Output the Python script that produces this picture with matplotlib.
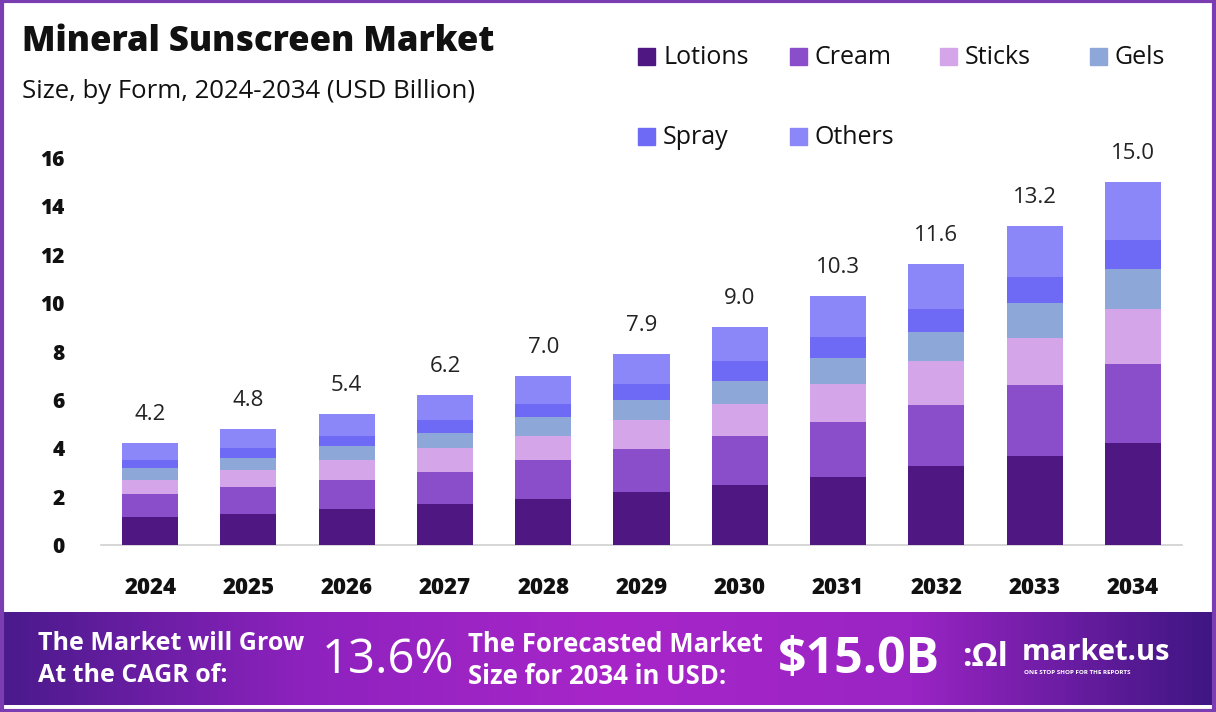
import numpy as np
import matplotlib.pyplot as plt
from matplotlib.patches import Rectangle
from matplotlib.colors import LinearSegmentedColormap

# -------------------------------
# Data (USD Billion)
# -------------------------------
years = ["2024", "2025", "2026", "2027", "2028", "2029", "2030", "2031", "2032", "2033", "2034"]
totals = [4.2, 4.8, 5.4, 6.2, 7.0, 7.9, 9.0, 10.3, 11.6, 13.2, 15.0]

lotions = [1.15, 1.3, 1.5, 1.7, 1.9, 2.2, 2.5, 2.8, 3.25, 3.7, 4.2]
cream = [0.95, 1.1, 1.2, 1.3, 1.6, 1.75, 2.0, 2.3, 2.55, 2.9, 3.3]
sticks = [0.6, 0.7, 0.8, 1.0, 1.0, 1.2, 1.35, 1.55, 1.8, 1.95, 2.25]
gels = [0.5, 0.5, 0.6, 0.65, 0.8, 0.85, 0.95, 1.1, 1.2, 1.45, 1.65]
spray = [0.3, 0.4, 0.4, 0.5, 0.55, 0.65, 0.8, 0.85, 0.95, 1.1, 1.2]
others = [0.7, 0.8, 0.9, 1.05, 1.15, 1.25, 1.4, 1.7, 1.85, 2.1, 2.4]

series_names = ["Lotions", "Cream", "Sticks", "Gels", "Spray", "Others"]
series_values = [lotions, cream, sticks, gels, spray, others]
colors = ["#4E1782", "#8A4ECB", "#D4A6E9", "#8EA7D9", "#6E6AF6", "#8C87F9"]

cagr_text = "13.6%"
forecast_text = "$15.0B"

FONT = "Open Sans"

# -------------------------------
# Figure
# -------------------------------
fig = plt.figure(figsize=(12.16, 7.12), dpi=100)
fig.patch.set_facecolor("white")

ax = fig.add_axes([101 / 1216, 1 - 545 / 712, (1182 - 101) / 1216, (545 - 158) / 712])

x = np.arange(len(years))
bottom = np.zeros(len(years))
for name, vals, col in zip(series_names, series_values, colors):
    ax.bar(x, vals, width=0.57, bottom=bottom, color=col, label=name, zorder=3)
    bottom += np.array(vals)

for xi, t in zip(x, totals):
    ax.annotate(f"{t:.1f}", (xi, t), xytext=(0, 13), textcoords="offset points",
                ha="center", va="bottom", fontsize=16, family=FONT, color="#222222")

ax.set_xlim(-0.5, len(years) - 0.5)
ax.set_ylim(0, 16)
ax.set_yticks(range(0, 17, 2))
ax.set_xticks(x)
ax.set_xticklabels(years)
for lab in ax.get_yticklabels():
    lab.set_fontweight("heavy")
    lab.set_fontsize(15)
    lab.set_family(FONT)
    lab.set_color("#111111")
for lab in ax.get_xticklabels():
    lab.set_fontweight("heavy")
    lab.set_fontsize(16)
    lab.set_family(FONT)
    lab.set_color("#111111")
ax.tick_params(axis="y", length=0, pad=26)
ax.tick_params(axis="x", length=0, pad=22)
for s in ["top", "right", "left"]:
    ax.spines[s].set_visible(False)
ax.spines["bottom"].set_color("#cfcfcf")
ax.spines["bottom"].set_linewidth(1.2)
ax.set_facecolor("none")

# -------------------------------
# Title and subtitle
# -------------------------------
fig.text(22 / 1216, 1 - 42 / 712, "Mineral Sunscreen Market", fontsize=25, fontweight="heavy",
         family=FONT, va="center", ha="left", color="#111111")
fig.text(22 / 1216, 1 - 92 / 712, "Size, by Form, 2024-2034 (USD Billion)", fontsize=18.5,
         family=FONT, va="center", ha="left", color="#111111")

# -------------------------------
# Legend (manual, two rows)
# -------------------------------
col_x = [638, 790, 940, 1090]
row_y = [57, 137]
for i, (name, col) in enumerate(zip(series_names, colors)):
    cx = col_x[i % 4]
    cy = row_y[i // 4]
    fig.patches.append(Rectangle((cx / 1216, 1 - (cy + 8) / 712), 17 / 1216, 17 / 712,
                                 transform=fig.transFigure, color=col))
    fig.text((cx + 25) / 1216, 1 - cy / 712, name, fontsize=18, family=FONT,
             va="center", ha="left", color="#111111")

# -------------------------------
# Footer banner with gradient
# -------------------------------
fax = fig.add_axes([0, 1 - 705 / 712, 1, (705 - 612) / 712])
grad = LinearSegmentedColormap.from_list("banner", ["#4A1A8C", "#8E22BE", "#A826C9", "#9A24C4", "#3E1682"])
fax.imshow(np.linspace(0, 1, 400).reshape(1, -1), cmap=grad, aspect="auto", extent=[0, 1, 0, 1])
fax.set_xlim(0, 1)
fax.set_ylim(0, 1)
fax.axis("off")

wtxt = dict(color="white", family=FONT, fontweight="bold", va="center", ha="left")
fig.text(38 / 1216, 1 - 644 / 712, "The Market will Grow", fontsize=18, **wtxt)
fig.text(38 / 1216, 1 - 676 / 712, "At the CAGR of:", fontsize=18, **wtxt)
fig.text(322 / 1216, 1 - 660 / 712, cagr_text, fontsize=34, color="white", family=FONT,
         va="center", ha="left")
fig.text(468 / 1216, 1 - 644 / 712, "The Forecasted Market", fontsize=18.5, **wtxt)
fig.text(468 / 1216, 1 - 676 / 712, "Size for 2034 in USD:", fontsize=18.5, **wtxt)
fig.text(778 / 1216, 1 - 660 / 712, forecast_text, fontsize=36, color="white", family=FONT,
         fontweight="bold", va="center", ha="left")

# logo
fig.text(962 / 1216, 1 - 658 / 712, ":\u03a9l", fontsize=24, **wtxt)
fig.text(1022 / 1216, 1 - 652 / 712, "market.us", fontsize=21, **wtxt)
fig.text(1024 / 1216, 1 - 672 / 712, "ONE STOP SHOP FOR THE REPORTS", fontsize=4.5, **wtxt)

# purple frame
fig.patches.append(Rectangle((0.002, 0.002), 0.996, 0.996, transform=fig.transFigure,
                             fill=False, edgecolor="#7A3DB2", linewidth=3))

fig.savefig("out.png", dpi=100)
